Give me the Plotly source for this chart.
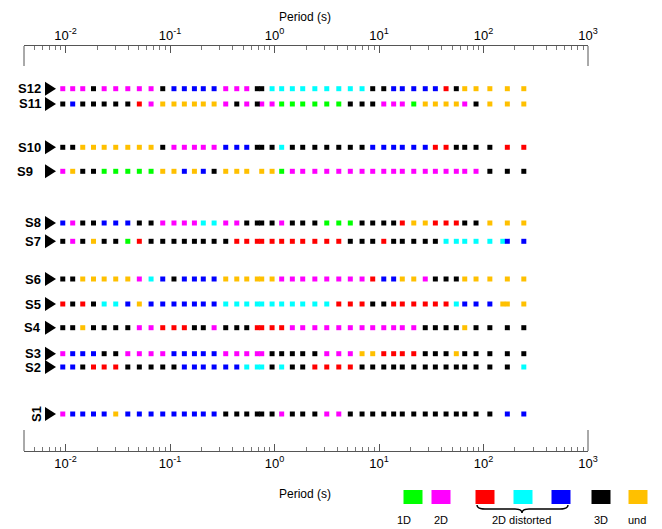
import math
import plotly.graph_objects as go

# ---------------- data ----------------
periods = [0.0094, 0.0117, 0.0146, 0.0185, 0.0234, 0.0302, 0.0394, 0.0508, 0.0658, 0.0851,
           0.109, 0.137, 0.171, 0.208, 0.264, 0.341, 0.435, 0.542, 0.684, 0.754,
           0.947, 1.17, 1.48, 1.86, 2.43, 3.16, 4.12, 5.31, 6.88, 8.70,
           11.1, 13.8, 16.7, 21.5, 27.7, 34.6, 43.8, 54.9, 66.1, 84.8,
           115, 153, 169, 243]

stations = ["S12", "S11", "S10", "S9", "S8", "S7", "S6", "S5", "S4", "S3", "S2", "S1"]

# dimensionality class per period ('.' = no estimate)
# G=1D, M=2D, R/C/B=2D distorted, K=3D, Y=undetermined
cls_S12 = "MMMKMMMMMKBBBBBMMMKKCC" + "CCCCCCCKKBBBBBRKYYY" + ".YY"
cls_S11 = "KBKKKKKRMYYYYYYMKMKMMG" + "GGGGGKKKMMMGYYYYMKY" + ".YY"
cls_S10 = "KKYYYYYYYKMMMMMBBBKKKC" + "KKKKKKKBBBBBBRRKKKK" + ".RR"
cls_S9 = "MYKKGGGGGYYBYBKYYY.YYG" + "MMMMMMMMMMMMMMMMMMK" + ".KK"
cls_S8 = "BMKKBBBKKMMMMCCMMKKKKM" + "KKKGGGKKKKRYYRRRKKY" + ".YY"
cls_S7 = "KMKYKKGRKKKKKKKKRRRRRR" + "RRRRRKKKRKKKKKCCCCC" + "CBB"
cls_S6 = "KKYYYYYMCBKBBBBYYYYYYM" + "MMMMMMMRBBYYMKKKYYY" + ".YY"
cls_S5 = "RKRKCCBYBBBBBBBCCCCCCC" + "CCCCRRRKKRRRRRRCBBB" + "YYY"
cls_S4 = "KKYKKKKMMRRRKKMKKKRRRR" + "MMMMMMMMMMMMKKKKYKK" + ".KK"
cls_S3 = "MBBBKKMMMMBBBBBMMMMMKK" + "KKKMMMYYRRRRKKKYKKK" + ".KK"
cls_S2 = "BBKRRRKKKKKBBBBBBCCCKC" + "KKRRRRKKKKKKKKKKKKK" + ".KC"
cls_S1 = "MBBBBYBBBBBBBBBKKKKKKM" + "KKKMMKKKKKKKKKKKKKK" + ".BB"

station_classes = [cls_S12, cls_S11, cls_S10, cls_S9, cls_S8, cls_S7,
                   cls_S6, cls_S5, cls_S4, cls_S3, cls_S2, cls_S1]

class_codes = ["G", "M", "R", "C", "B", "K", "Y"]
legend_labels = ["1D", "2D", "2D distorted", "3D", "und"]
tick_vals = [0.01, 0.1, 1, 10, 100, 1000]
tick_text = ["10<sup>-2</sup>", "10<sup>-1</sup>", "10<sup>0</sup>",
             "10<sup>1</sup>", "10<sup>2</sup>", "10<sup>3</sup>"]

# ---------------- style / layout ----------------
colors = {"G": "#00FF00", "M": "#FF00FF", "R": "#FF0000", "C": "#00FFFF",
          "B": "#0000FF", "K": "#000000", "Y": "#FFC000"}
FONT = "Liberation Sans, Arial, sans-serif"
W, H = 662, 529
L, R, T, B = 24, 74, 46, 78
PW, PH = W - L - R, H - T - B

# vertical row placement (pixel rows of the layout)
row_pos = [88.7, 104, 147.3, 171.3, 223, 241.3, 279, 304, 327.7, 353.7, 367, 414]


def fx(x):
    return (x - L) / PW


def fy(y):
    return (H - B - y) / PH


for s, c in zip(stations, station_classes):
    assert len(c) == len(periods), (s, len(c))

fig = go.Figure()
for code in class_codes:
    xs, ys = [], []
    for rp, cl in zip(row_pos, station_classes):
        for p, ch in zip(periods, cl):
            if ch == code:
                xs.append(p)
                ys.append(rp)
    fig.add_trace(go.Scatter(x=xs, y=ys, mode="markers", showlegend=False,
                             marker=dict(symbol="square", size=5, color=colors[code],
                                         line=dict(width=0)),
                             hoverinfo="x"))

# dummy trace for top axis
fig.add_trace(go.Scatter(x=[1], y=[None], xaxis="x2", mode="markers",
                         showlegend=False, hoverinfo="skip"))

minor_vals = [m * 10 ** k for k in range(-3, 3) for m in range(2, 10)
              if 0.004 <= m * 10 ** k <= 1000]
xr = [math.log10(0.004), 3]
axis_common = dict(
    type="log", range=xr, tickmode="array", tickvals=tick_vals, ticktext=tick_text,
    ticks="inside", ticklen=7, tickwidth=1, tickcolor="#555",
    showline=True, linecolor="#555", linewidth=1, showgrid=False, zeroline=False,
    minor=dict(tickmode="array", tickvals=minor_vals, ticks="inside", ticklen=4,
               tickwidth=1, tickcolor="#777", showgrid=False),
    tickfont=dict(family=FONT, size=13, color="black"),
)

shapes = []
# frame end segments
for xp in (L, W - R):
    shapes.append(dict(type="line", xref="paper", yref="paper", x0=fx(xp), x1=fx(xp),
                       y0=fy(T), y1=fy(66), line=dict(color="#555", width=1)))
    shapes.append(dict(type="line", xref="paper", yref="paper", x0=fx(xp), x1=fx(xp),
                       y0=fy(430), y1=fy(H - B), line=dict(color="#555", width=1)))

annotations = []
# row arrows and labels
label_right = {"S9": 35}
for s, rp in zip(stations, row_pos):
    path = "M {} {} L {} {} L {} {} Z".format(fx(45), fy(rp - 7), fx(45), fy(rp + 7),
                                              fx(56), fy(rp))
    shapes.append(dict(type="path", xref="paper", yref="paper", path=path,
                       fillcolor="black", line=dict(color="black", width=0)))
    if s == "S1":
        annotations.append(dict(text="<b>S1</b>", x=fx(36), y=fy(rp), xref="paper",
                                yref="paper", showarrow=False, textangle=-90,
                                xanchor="center", yanchor="middle",
                                font=dict(family=FONT, size=13, color="black")))
    else:
        annotations.append(dict(text="<b>%s</b>" % s, x=fx(label_right.get(s, 43)), y=fy(rp),
                                xref="paper", yref="paper", showarrow=False,
                                xanchor="right", yanchor="middle",
                                font=dict(family=FONT, size=13, color="black")))

# axis titles
for yy in (17, 494):
    annotations.append(dict(text="Period (s)", x=fx(305), y=fy(yy), xref="paper", yref="paper",
                            showarrow=False, xanchor="center", yanchor="middle",
                            font=dict(family=FONT, size=12, color="black")))

# legend
leg_x = {"G": 413, "M": 441, "R": 485, "C": 523, "B": 561, "K": 601, "Y": 638}
for code, cx in leg_x.items():
    shapes.append(dict(type="rect", xref="paper", yref="paper",
                       x0=fx(cx - 9.5), x1=fx(cx + 9.5), y0=fy(490), y1=fy(504),
                       fillcolor=colors[code], line=dict(width=0)))
for lab, cx in zip(legend_labels, [404, 441, 521, 601, 637]):
    annotations.append(dict(text=lab, x=fx(cx), y=fy(520), xref="paper", yref="paper",
                            showarrow=False, xanchor="center", yanchor="middle",
                            font=dict(family=FONT, size=11, color="black")))
brace_pts = ("M {a} {b} Q {a} {c} {d} {c} L {e} {c} Q {m} {c} {m} {f} "
             "Q {m} {c} {g} {c} L {h} {c} Q {i} {c} {i} {b}").format(
    a=fx(477), b=fy(505), c=fy(509), d=fx(485), e=fx(515), m=fx(522), f=fy(513),
    g=fx(529), h=fx(560), i=fx(568))
shapes.append(dict(type="path", xref="paper", yref="paper", path=brace_pts,
                   line=dict(color="black", width=1.5)))

fig.update_layout(
    width=W, height=H, margin=dict(l=L, r=R, t=T, b=B, pad=0),
    paper_bgcolor="white", plot_bgcolor="white",
    xaxis=dict(**axis_common, side="bottom", anchor="y"),
    xaxis2=dict(**axis_common, side="top", overlaying="x", anchor="y"),
    yaxis=dict(range=[H - B, T], visible=False, showgrid=False, zeroline=False),
    shapes=shapes, annotations=annotations,
    font=dict(family=FONT, color="black"),
    showlegend=False,
)

fig.write_html("out.html", config={"displayModeBar": False},
               post_script="document.body.style.margin='0';")
